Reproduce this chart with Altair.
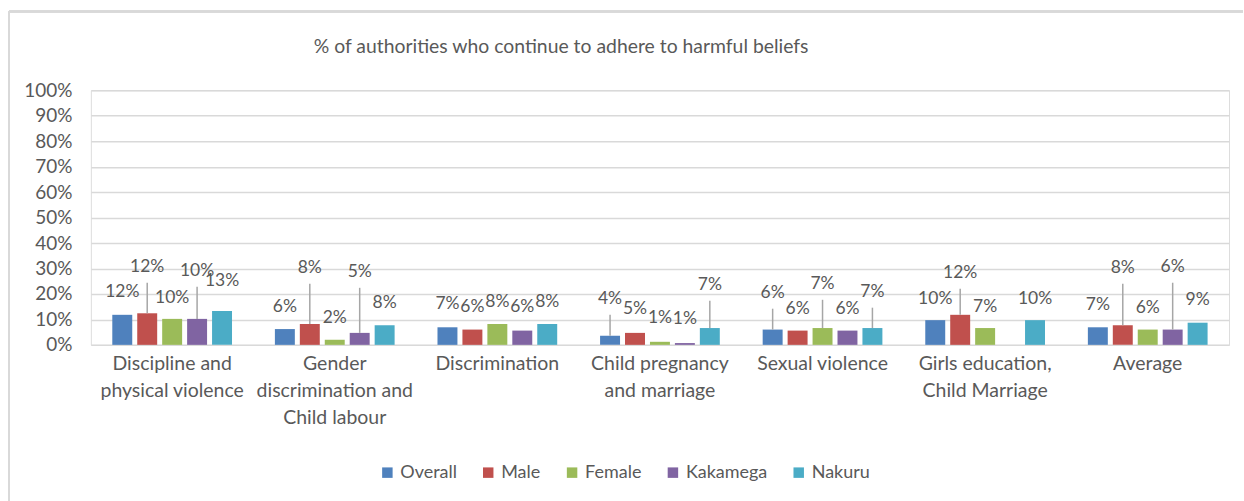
import altair as alt
import pandas as pd

title_text = "% of authorities who continue to adhere to harmful beliefs"
categories = [
    "Discipline and|physical violence",
    "Gender|discrimination and|Child labour",
    "Discrimination",
    "Child pregnancy|and marriage",
    "Sexual violence",
    "Girls education,|Child Marriage",
    "Average",
]
series = ["Overall", "Male", "Female", "Kakamega", "Nakuru"]
colors = ["#4F81BD", "#C0504D", "#9BBB59", "#8064A2", "#4BACC6"]
y_ticks = [0.0, 0.1, 0.2, 0.3, 0.4, 0.5, 0.6, 0.7, 0.8, 0.9, 1.0]

overall = [0.118, 0.062, 0.069, 0.036, 0.060, 0.097, 0.069]
male = [0.124, 0.082, 0.060, 0.047, 0.056, 0.118, 0.077]
female = [0.102, 0.020, 0.082, 0.012, 0.066, 0.066, 0.060]
kakamega = [0.102, 0.047, 0.056, 0.007, 0.056, None, 0.060]
nakuru = [0.133, 0.077, 0.082, 0.066, 0.066, 0.097, 0.087]

# data-label placement (value-axis units) and whether a leader line is drawn
label_pos = {
    "Overall": [0.208, 0.149, 0.161, 0.180, 0.204, 0.180, 0.157],
    "Male": [0.306, 0.302, 0.149, 0.141, 0.141, 0.282, 0.302],
    "Female": [0.184, 0.106, 0.169, 0.106, 0.239, 0.149, 0.145],
    "Kakamega": [0.290, 0.286, 0.149, 0.102, 0.141, None, 0.306],
    "Nakuru": [0.251, 0.165, 0.169, 0.235, 0.208, 0.180, 0.176],
}
leader = {
    "Overall": [0, 0, 0, 1, 1, 0, 0],
    "Male": [1, 1, 0, 0, 0, 1, 1],
    "Female": [0, 0, 0, 0, 1, 0, 0],
    "Kakamega": [1, 1, 0, 0, 0, 0, 1],
    "Nakuru": [0, 0, 0, 1, 1, 0, 0],
}

values = {"Overall": overall, "Male": male, "Female": female,
          "Kakamega": kakamega, "Nakuru": nakuru}

rows = []
for s in series:
    for i, c in enumerate(categories):
        v = values[s][i]
        if v is None:
            continue
        rows.append({
            "category": c, "series": s, "value": v,
            "label_y": label_pos[s][i],
            "leader_top": label_pos[s][i] - 0.062,
            "leader": leader[s][i],
        })
df = pd.DataFrame(rows)

FONT = "Lato"
GREY = "#595959"

y_axis = alt.Axis(values=y_ticks, format=".0%", tickCount=11,
                  ticks=False, domain=False, gridColor="#D9D9D9",
                  gridWidth=1.5, labelFontSize=19, labelColor=GREY,
                  labelFont=FONT, labelPadding=19, labelOverlap=False)
y_scale = alt.Scale(domain=[0, 1])

x_enc = alt.X("category:N", sort=categories, title=None,
              scale=alt.Scale(paddingInner=0.233, paddingOuter=0.1165),
              axis=alt.Axis(labelAngle=0, ticks=False, domain=False,
                            labelExpr="split(datum.label, '|')",
                            labelFontSize=19.5, labelColor=GREY, labelFont=FONT,
                            labelLineHeight=27, labelPadding=10, labelLimit=300))
xo_enc = alt.XOffset("series:N", sort=series,
                     scale=alt.Scale(paddingInner=0.2, paddingOuter=0.1))

base = alt.Chart(df)

bars = base.mark_bar().encode(
    x=x_enc,
    xOffset=xo_enc,
    y=alt.Y("value:Q", title=None, scale=y_scale, axis=y_axis),
    color=alt.Color("series:N", sort=series, title=None,
                    scale=alt.Scale(domain=series, range=colors),
                    legend=alt.Legend(orient="none", legendX=288, legendY=374,
                                      direction="horizontal", symbolType="square",
                                      symbolSize=110, symbolStrokeWidth=0,
                                      labelFontSize=18, labelColor=GREY,
                                      labelFont=FONT, columnPadding=22,
                                      labelOffset=4)),
)

leaders = base.transform_filter("datum.leader == 1").mark_rule(
    color="#A6A6A6", strokeWidth=1.5).encode(
    x=alt.X("category:N", sort=categories),
    xOffset=alt.XOffset("series:N", sort=series),
    y=alt.Y("value:Q", title=None, scale=y_scale, axis=y_axis),
    y2="leader_top:Q",
)

labels = base.mark_text(fontSize=17.5, color=GREY, font=FONT,
                        baseline="middle").encode(
    x=alt.X("category:N", sort=categories),
    xOffset=alt.XOffset("series:N", sort=series),
    y=alt.Y("label_y:Q", title=None, scale=y_scale, axis=y_axis),
    text=alt.Text("value:Q", format=".0%"),
)

frame_top = alt.Chart(df).mark_rule(color="#D9D9D9", strokeWidth=2).encode(
    x=alt.value(-82), x2=alt.value(1154), y=alt.value(-79))
frame_left = alt.Chart(df).mark_rule(color="#D9D9D9", strokeWidth=2).encode(
    x=alt.value(-82), y=alt.value(-79), y2=alt.value(412))

title = alt.Chart(pd.DataFrame({"t": [title_text]})).mark_text(
    fontSize=19.4, font=FONT, color=GREY, align="center", baseline="middle"
).encode(text="t:N", x=alt.value(471), y=alt.value(-43))

chart = alt.layer(frame_top, frame_left, title, bars, leaders, labels).properties(
    width=1140, height=255,
    padding={"left": 8, "top": 10, "right": 0, "bottom": 0},
).configure_view(strokeWidth=0).configure(background="white")

chart.save("out.html", embed_options={"renderer": "svg", "actions": False})
